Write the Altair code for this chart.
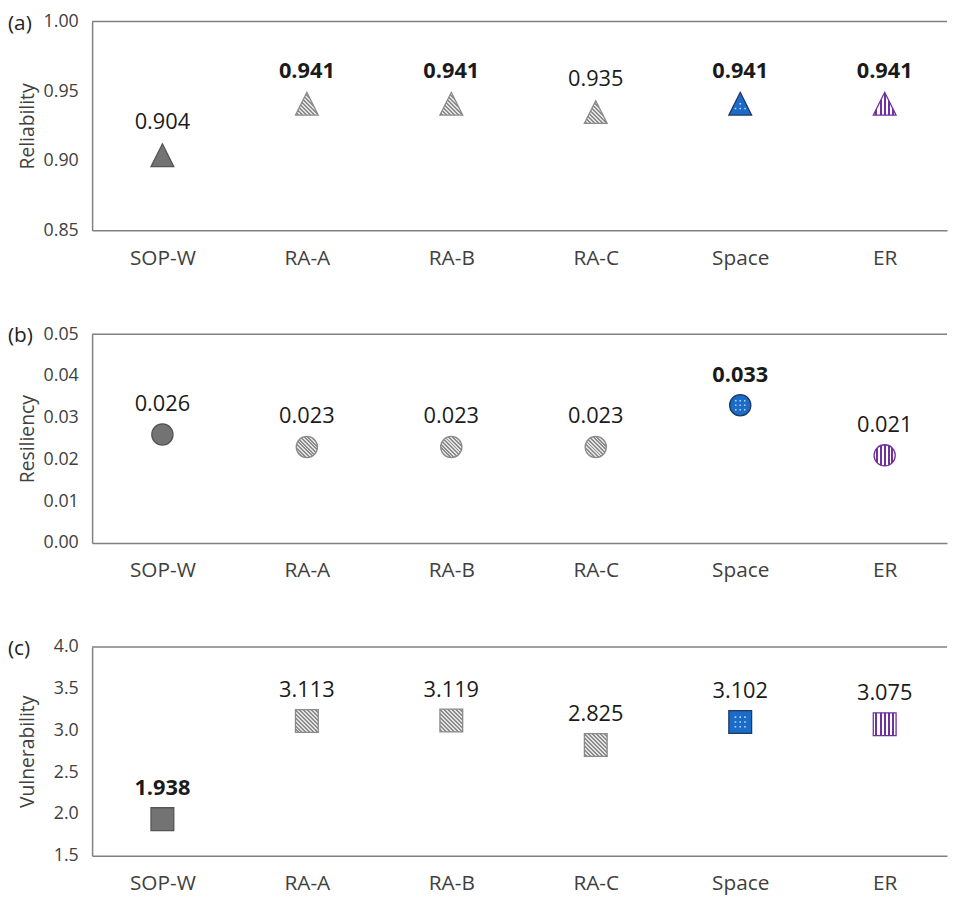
import altair as alt
import pandas as pd

FONT = "Open Sans"

categories = ["SOP-W", "RA-A", "RA-B", "RA-C", "Space", "ER"]
styles = ["solid", "hatch", "hatch", "hatch", "dots", "stripes"]

reliability = [0.904, 0.941, 0.941, 0.935, 0.941, 0.941]
reliability_bold = [False, True, True, False, True, True]

resiliency = [0.026, 0.023, 0.023, 0.023, 0.033, 0.021]
resiliency_bold = [False, False, False, False, True, False]

vulnerability = [1.938, 3.113, 3.119, 2.825, 3.102, 3.075]
vulnerability_bold = [True, False, False, False, False, False]

rel_ticks = [0.85, 0.90, 0.95, 1.00]
res_ticks = [0.00, 0.01, 0.02, 0.03, 0.04, 0.05]
vul_ticks = [1.5, 2.0, 2.5, 3.0, 3.5, 4.0]

W, H = 864, 211


def stripes(c1, c2, n, x1, y1, x2, y2):
    stops = []
    for i in range(n):
        c = c1 if i % 2 == 0 else c2
        stops.append({"offset": i / n, "color": c})
        stops.append({"offset": (i + 1) / n, "color": c})
    return {"gradient": "linear", "x1": x1, "y1": y1, "x2": x2, "y2": y2, "stops": stops}


def dot_path(inside, step=0.42, r=0.07):
    # small white dots pattern used as a fill texture for the "Space" markers
    parts = []
    k = -0.84
    coords = []
    while k <= 0.85:
        coords.append(round(k, 3))
        k += step
    for cx in coords:
        for cy in coords:
            if inside(cx, cy):
                parts.append(f"M{cx - r:.3f},{cy - r:.3f}h{2 * r:.3f}v{2 * r:.3f}h{-2 * r:.3f}Z")
    # two anchor points at the corners keep the dots normalised to the marker box
    return "M-1,-1h0.001v0.001h-0.001ZM1,1h-0.001v-0.001h0.001Z" + "".join(parts)


STYLE = {
    "solid": dict(fill="#737373", stroke="#555555"),
    "hatch": dict(fill=stripes("#e2e2e2", "#8c8c8c", 23, 0, 1, 1, 0), stroke="#8a8a8a"),
    "dots": dict(fill="#1a6cc8", stroke="#1f3864"),
    "stripes": dict(fill=stripes("#ffffff", "#7030a0", 11, 0, 0, 1, 0), stroke="#7030a0"),
}


def panel(values, bold, title, letter, ticks, fmt, shape, size, dots_shape, dy):
    lo, hi = ticks[0], ticks[-1]
    df = pd.DataFrame({"cat": categories, "v": values, "bold": bold, "style": styles})
    base = alt.Chart(df).encode(
        x=alt.X("cat:N", sort=categories,
                scale=alt.Scale(type="point", padding=0.459, align=0.53),
                axis=alt.Axis(title=None, labelAngle=0, labelFontSize=21, labelPadding=17,
                              labelColor="#404040", ticks=False, domainColor="#808080",
                              domainWidth=1.5, labelFont=FONT)),
        y=alt.Y("v:Q", scale=alt.Scale(domain=[lo, hi], nice=False, zero=False),
                axis=alt.Axis(values=ticks, format=fmt, title=title, titleX=-65, titleY=H / 2,
                              titleBaseline="middle", titleFontSize=19.5, titleFontWeight="normal",
                              titleColor="#404040", titleFont=FONT, labelFontSize=18,
                              labelColor="#404040", labelPadding=14, ticks=False, grid=False,
                              domainColor="#808080", domainWidth=1.5, labelFont=FONT)),
    )
    layers = []
    top = alt.Chart(pd.DataFrame({"t": [0]})).mark_rule(color="#808080", strokeWidth=1.5).encode(
        y=alt.datum(hi))
    layers.append(top)
    for st, props in STYLE.items():
        layers.append(
            base.transform_filter(alt.datum.style == st).mark_point(
                shape=shape, size=size, opacity=1, fillOpacity=1, strokeWidth=1.3,
                fill=props["fill"], stroke=props["stroke"]))
    layers.append(
        base.transform_filter(alt.datum.style == "dots").mark_point(
            shape=dots_shape, size=size, opacity=0.85, fillOpacity=0.85, filled=True,
            fill="#ffffff", strokeWidth=0))
    for b in (False, True):
        layers.append(
            base.transform_filter(alt.datum.bold == b).mark_text(
                dy=dy, fontSize=22, font=FONT, color="#1a1a1a",
                fontWeight="bold" if b else "normal", baseline="middle").encode(
                text=alt.Text("v:Q", format=".3f")))
    layers.append(
        alt.Chart(pd.DataFrame({"t": [letter]})).mark_text(
            x=-85, y=2, align="left", baseline="middle", fontSize=21, font=FONT,
            color="#222222").encode(text="t:N"))
    return alt.layer(*layers).properties(width=W, height=H)


TRI = "M0,-1L1,1L-1,1Z"
tri_dots = dot_path(lambda x, y: y > -0.3 and y < 0.8 and abs(x) < (y + 1) / 2 - 0.2)
circ_dots = dot_path(lambda x, y: x * x + y * y < 0.6)
sq_dots = dot_path(lambda x, y: abs(x) < 0.8 and abs(y) < 0.8)

pa = panel(reliability, reliability_bold, "Reliability", "(a)", rel_ticks, ".2f", TRI, 530, tri_dots, -33)
pb = panel(resiliency, resiliency_bold, "Resiliency", "(b)", res_ticks, ".2f", "circle", 460, circ_dots, -31)
pc = panel(vulnerability, vulnerability_bold, "Vulnerability", "(c)", vul_ticks, ".1f", "square", 530, sq_dots, -31)

chart = alt.vconcat(pa, pb, pc, spacing=58).properties(padding=0).configure_view(stroke=None)

chart.save("out.html", embed_options={"renderer": "svg", "actions": False})
